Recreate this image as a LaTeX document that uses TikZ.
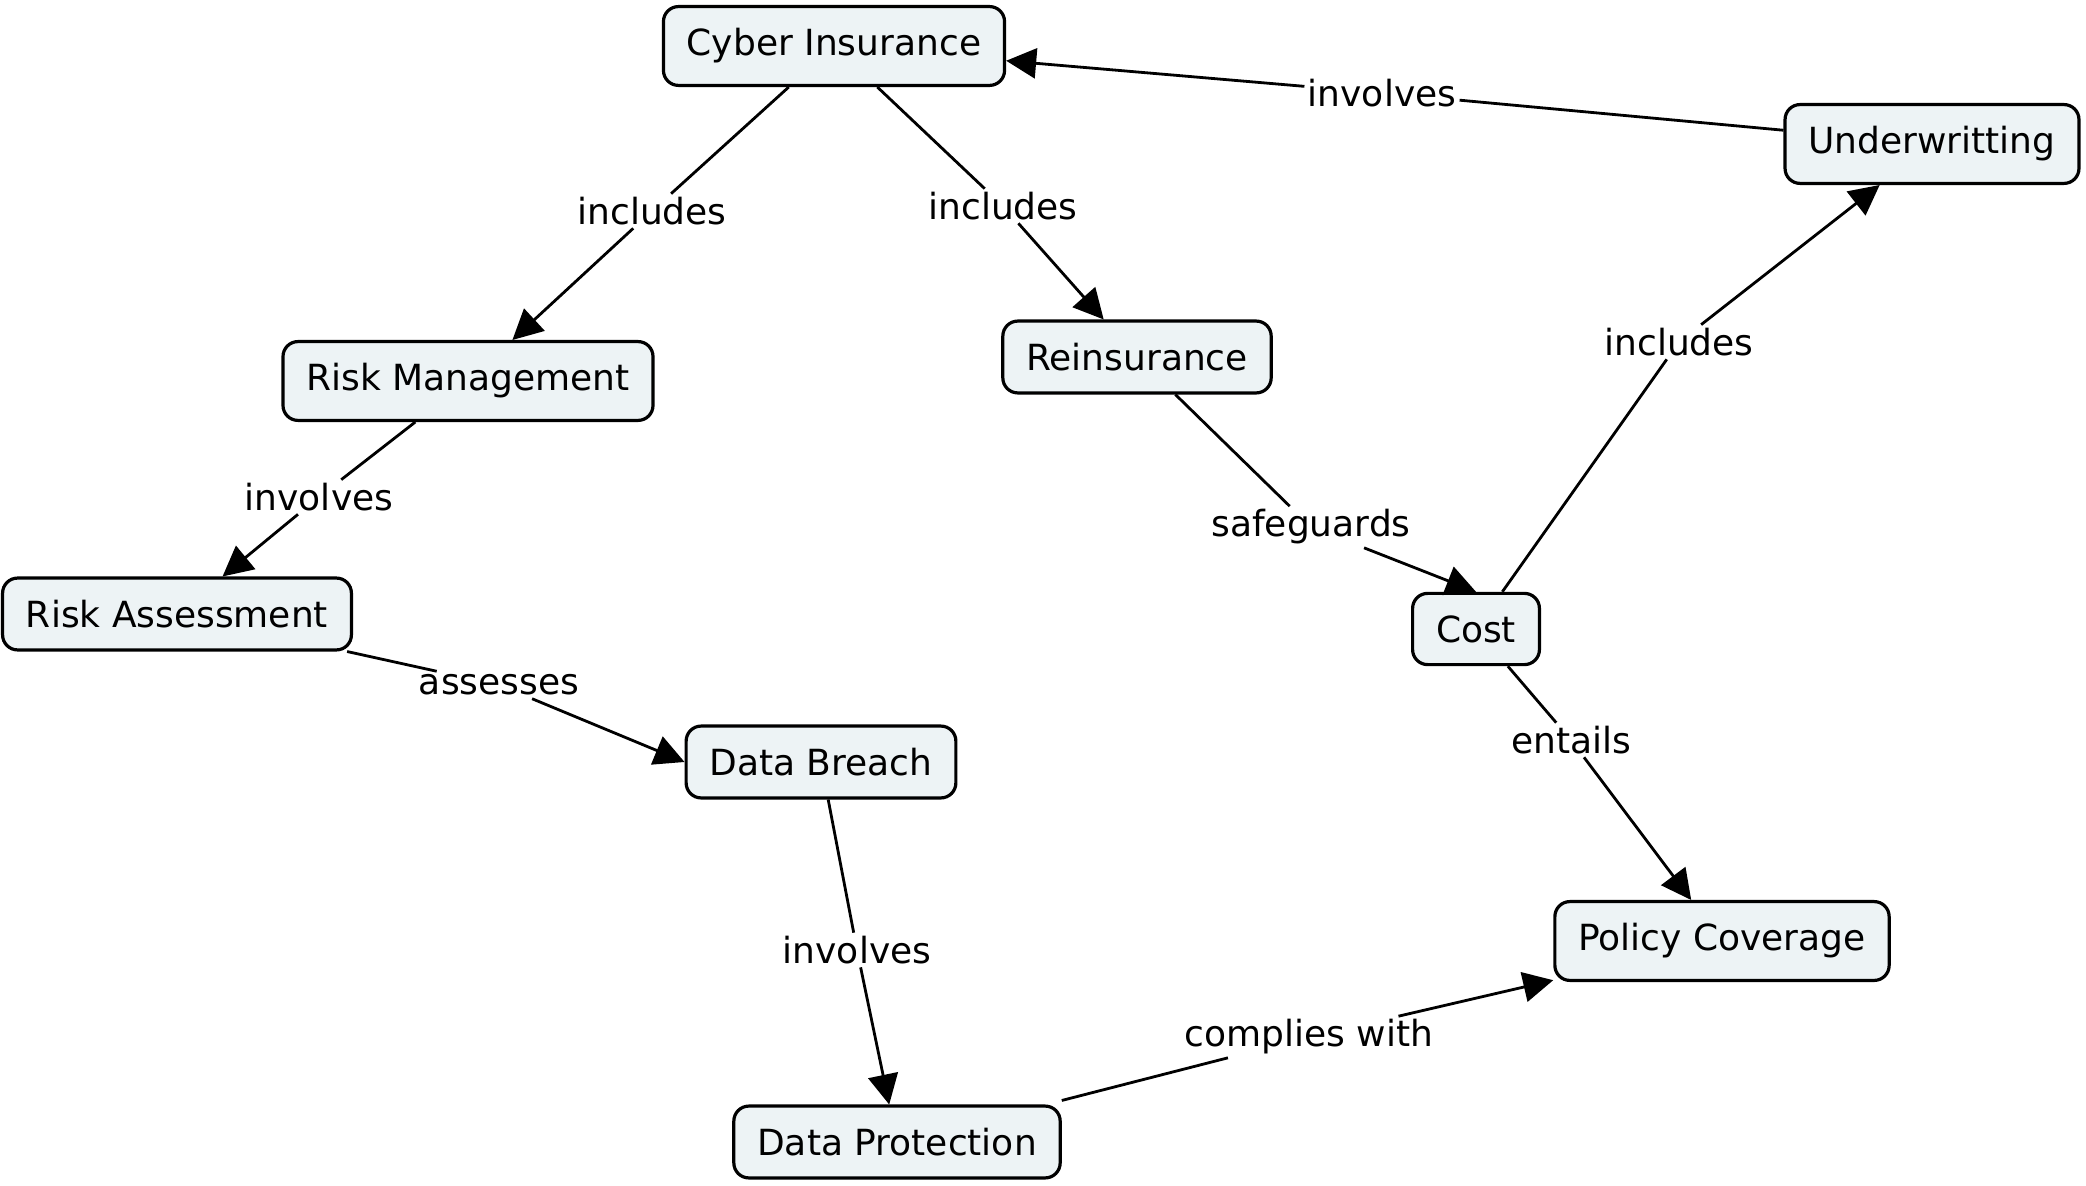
\documentclass[tikz,border=0pt]{standalone}
\usepackage{fontspec}
\setmainfont{DejaVu Sans}
\usetikzlibrary{arrows.meta}
\definecolor{conceptfill}{HTML}{EDF3F5}
\begin{document}
\begin{tikzpicture}[x=0.5pt, y=-0.5pt, font=\fontsize{18}{21}\selectfont,
        concept/.style={rectangle, rounded corners=7.5pt, draw, line width=1.6pt, fill=conceptfill, inner xsep=11.7pt, inner ysep=11pt},
        link/.style={inner sep=1.5pt},
        conn/.style={line width=1.4pt},
        arr/.style={conn, -{Triangle[length=15pt, width=15pt]}}]
        \useasboundingbox (0,0) rectangle (2086,1186);
        % concepts
        \node[concept] (ci) at (834,46) {Cyber Insurance};
        \node[concept] (uw) at (1932,144) {Underwritting};
        \node[concept] (rm) at (468,381) {Risk Management};
        \node[concept] (re) at (1137,357) {Reinsurance};
        \node[concept] (ra) at (177,614) {Risk Assessment};
        \node[concept] (co) at (1476,629) {Cost};
        \node[concept] (db) at (821,762) {Data Breach};
        \node[concept] (pc) at (1722,941) {Policy Coverage};
        \node[concept] (dp) at (897,1142) {Data Protection};
        % linking words
        \node[link] (l1) at (652,211) {includes};
        \node[link] (l2) at (1003,206) {includes};
        \node[link] (l3) at (1382,93) {involves};
        \node[link] (l4) at (1679,342) {includes};
        \node[link] (l5) at (319,497) {involves};
        \node[link] (l6) at (1311,527) {safeguards};
        \node[link] (l7) at (499,685) {assesses};
        \node[link] (l8) at (1571,740) {entails};
        \node[link] (l9) at (857,950) {involves};
        \node[link] (l10) at (1309,1037) {complies with};
        % connections
        \draw[conn] (ci) -- (l1); \draw[arr] (l1) -- (rm);
        \draw[conn] (ci) -- (l2); \draw[arr] (l2) -- (re);
        \draw[conn] (uw) -- (l3); \draw[arr] (l3) -- (ci);
        \draw[conn] (co) -- (l4); \draw[arr] (l4) -- (uw);
        \draw[conn] (rm) -- (l5); \draw[arr] (l5) -- (ra);
        \draw[conn] (re) -- (l6); \draw[arr] (l6) -- (co.north);
        \draw[conn] (ra) -- (l7); \draw[arr] (l7) -- (db.west);
        \draw[conn] (co) -- (l8); \draw[arr] (l8) -- (pc);
        \draw[conn] (db) -- (l9); \draw[arr] (l9) -- (dp);
        \draw[conn] ([yshift=2pt]dp.north east) -- (l10); \draw[arr] (l10) -- (pc);
\end{tikzpicture}
\end{document}
